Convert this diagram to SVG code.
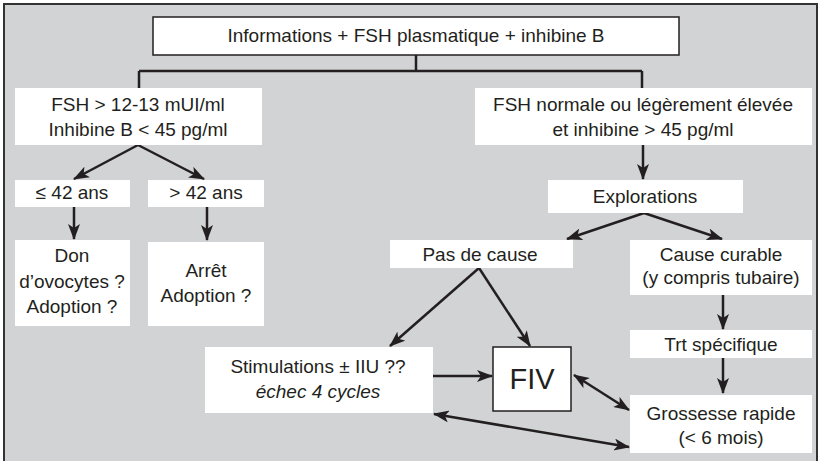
<svg xmlns="http://www.w3.org/2000/svg" width="821" height="461" viewBox="0 0 821 461">
<style>
.t{font-family:"Liberation Sans",Arial,sans-serif;font-size:19px;fill:#231f20;text-anchor:middle}
.it{font-style:italic}
.big{font-size:29px}
.box{fill:#fff}
.sbox{fill:#fff;stroke:#231f20;stroke-width:1.5}
.ln{fill:none;stroke:#231f20;stroke-width:2.5}
.ar{fill:none;stroke:#231f20;stroke-width:2.5;marker-end:url(#ah)}
.ar2{fill:none;stroke:#231f20;stroke-width:2.5;marker-end:url(#ah);marker-start:url(#ahs)}
</style>
<defs>
<marker id="ah" markerUnits="userSpaceOnUse" viewBox="0 0 16 12" refX="15" refY="6" markerWidth="16" markerHeight="12" orient="auto">
<path d="M0,0 L16,6 L0,12 L4,6 z" fill="#231f20"/>
</marker>
<marker id="ahs" markerUnits="userSpaceOnUse" viewBox="0 0 16 12" refX="1" refY="6" markerWidth="16" markerHeight="12" orient="auto">
<path d="M16,0 L0,6 L16,12 L12,6 z" fill="#231f20"/>
</marker>
</defs>
<rect x="4" y="4" width="813" height="462" fill="#d1d3d4" stroke="#333" stroke-width="2"/>

<g id="connectors">
<path class="ln" d="M416,55 V71 M139,71 H642 M139,71 V88 M642,71 V88"/>
<path class="ar" d="M138,145 L74,179"/>
<path class="ar" d="M138,145 L204,179"/>
<path class="ar" d="M74,207 V239"/>
<path class="ar" d="M207,207 V240"/>
<path class="ar" d="M643,145 V179"/>
<path class="ar" d="M644,213 L567,239"/>
<path class="ar" d="M644,213 L722,239"/>
<path class="ar" d="M479,268 L390,346"/>
<path class="ar" d="M479,268 L530,346"/>
<path class="ar" d="M723,295 V329"/>
<path class="ar" d="M723,358 V393"/>
<path class="ar" d="M433,376 H492"/>
<path class="ar2" d="M574,375 L629,410"/>
<path class="ar2" d="M434,414 L629,447"/>
</g>

<g id="n-top"><rect class="sbox" x="153" y="17" width="526" height="38"/><text class="t" x="416" y="42">Informations + FSH plasmatique + inhibine B</text></g>
<g id="n-fsh-high"><rect class="box" x="15" y="88" width="247" height="57"/><text class="t" x="138" y="111">FSH &gt; 12-13 mUI/ml</text><text class="t" x="138" y="136">Inhibine B &lt; 45 pg/ml</text></g>
<g id="n-fsh-normal"><rect class="box" x="475" y="88" width="337" height="57"/><text class="t" x="643" y="111">FSH normale ou légèrement élevée</text><text class="t" x="643" y="136">et inhibine &gt; 45 pg/ml</text></g>
<g id="n-le42"><rect class="box" x="15" y="180" width="115" height="27"/><text class="t" x="72" y="199">≤ 42 ans</text></g>
<g id="n-gt42"><rect class="box" x="148" y="180" width="116" height="27"/><text class="t" x="206" y="199">&gt; 42 ans</text></g>
<g id="n-don"><rect class="box" x="15" y="240" width="115" height="86"/><text class="t" x="72" y="262">Don</text><text class="t" x="72" y="288">d’ovocytes ?</text><text class="t" x="72" y="313">Adoption ?</text></g>
<g id="n-arret"><rect class="box" x="148" y="242" width="116" height="84"/><text class="t" x="206" y="277">Arrêt</text><text class="t" x="206" y="302">Adoption ?</text></g>
<g id="n-explorations"><rect class="box" x="548" y="180" width="195" height="33"/><text class="t" x="645" y="203">Explorations</text></g>
<g id="n-pasdecause"><rect class="box" x="390" y="240" width="183" height="28"/><text class="t" x="480" y="261">Pas de cause</text></g>
<g id="n-causecurable"><rect class="box" x="630" y="240" width="182" height="55"/><text class="t" x="721" y="261">Cause curable</text><text class="t" x="721" y="284">(y compris tubaire)</text></g>
<g id="n-trt"><rect class="box" x="630" y="330" width="182" height="28"/><text class="t" x="721" y="351">Trt spécifique</text></g>
<g id="n-stim"><rect class="box" x="205" y="347" width="228" height="66"/><text class="t" x="318" y="373">Stimulations ± IIU ??</text><text class="t it" x="318" y="398">échec 4 cycles</text></g>
<g id="n-fiv"><rect class="sbox" x="493" y="347" width="78" height="64"/><text class="t big" x="532" y="389">FIV</text></g>
<g id="n-grossesse"><rect class="box" x="630" y="395" width="182" height="58"/><text class="t" x="721" y="420">Grossesse rapide</text><text class="t" x="721" y="444">(&lt; 6 mois)</text></g>
</svg>
